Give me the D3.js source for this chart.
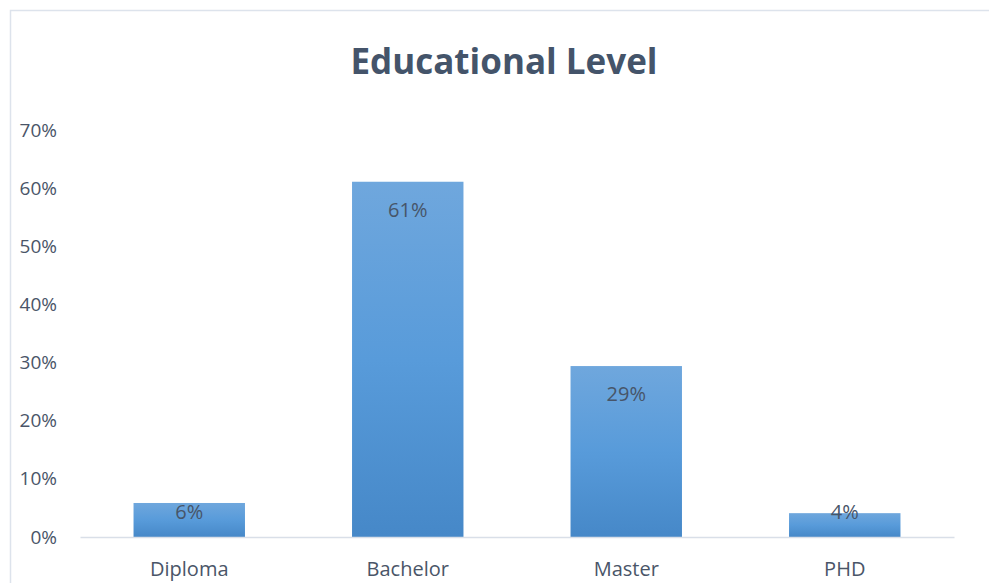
<!DOCTYPE html>
<html>
<head>
<meta charset="utf-8">
<script src="https://cdn.jsdelivr.net/npm/d3@7"></script>
<style>
  body { margin: 0; background: #fff; }
  text { font-family: "Open Sans", "Noto Sans", sans-serif; }
</style>
</head>
<body>
<div id="chart"></div>
<script>
// data
const categories = [ "Diploma", "Bachelor", "Master", "PHD" ];
const shares = [ 0.0585, 0.611, 0.294, 0.041 ];
const yTicks = [ 0, 0.1, 0.2, 0.3, 0.4, 0.5, 0.6, 0.7 ];
const chartTitle = "Educational Level";

const svgWidth = 989, svgHeight = 583;
const plot = { left: 80, right: 954, top: 130, bottom: 537 };

const svg = d3.select( "#chart" )
  .append( "svg" )
  .attr( "width", svgWidth )
  .attr( "height", svgHeight );

// chart area frame (right and bottom edge run off the picture)
svg.append( "rect" )
  .attr( "x", 10.5 ).attr( "y", 10.5 )
  .attr( "width", 1000 ).attr( "height", 600 )
  .attr( "fill", "none" )
  .attr( "stroke", "#dde3ec" )
  .attr( "stroke-width", 1.5 );

// gradient for the bars
const grad = svg.append( "defs" ).append( "linearGradient" )
  .attr( "id", "barFill" )
  .attr( "x1", 0 ).attr( "y1", 0 ).attr( "x2", 0 ).attr( "y2", 1 );
grad.append( "stop" ).attr( "offset", "0%" ).attr( "stop-color", "#6fa7dd" );
grad.append( "stop" ).attr( "offset", "50%" ).attr( "stop-color", "#589bda" );
grad.append( "stop" ).attr( "offset", "100%" ).attr( "stop-color", "#4688c8" );

const xScale = d3.scaleBand()
  .domain( categories )
  .range( [ plot.left, plot.right ] )
  .paddingInner( 0.49 )
  .paddingOuter( 0.245 );

const yScale = d3.scaleLinear()
  .domain( [ 0, 0.7 ] )
  .range( [ plot.bottom, plot.top ] );

// y axis labels, no line, no gridlines
const yAxis = svg.append( "g" )
  .attr( "transform", `translate(${plot.left}, 0)` )
  .call( d3.axisLeft( yScale )
    .tickValues( yTicks )
    .tickFormat( d3.format( ".0%" ) )
    .tickSize( 0 )
    .tickPadding( 23 ) );
yAxis.select( ".domain" ).remove();
yAxis.selectAll( "text" )
  .attr( "fill", "#4a5568" )
  .style( "font-size", "19px" )
  .style( "font-family", "'Open Sans', sans-serif" );

// bars
svg.append( "g" )
  .selectAll( "rect" )
  .data( shares )
  .enter().append( "rect" )
  .attr( "x", ( d, i ) => xScale( categories[ i ] ) )
  .attr( "y", d => yScale( d ) )
  .attr( "width", xScale.bandwidth() )
  .attr( "height", d => yScale( 0 ) - yScale( d ) )
  .attr( "fill", "url(#barFill)" );

// baseline / x axis
const xAxis = svg.append( "g" )
  .attr( "transform", `translate(0, ${plot.bottom})` )
  .call( d3.axisBottom( xScale ).tickSize( 0 ).tickPadding( 25 ) );
xAxis.select( ".domain" )
  .attr( "stroke", "#d9dfe8" )
  .attr( "stroke-width", 1.5 );
xAxis.selectAll( "text" )
  .attr( "fill", "#4a5568" )
  .style( "font-size", "20px" )
  .style( "font-family", "'Open Sans', sans-serif" );

// data labels, inside end, kept above the baseline for small bars
svg.append( "g" )
  .selectAll( "text" )
  .data( shares )
  .enter().append( "text" )
  .attr( "x", ( d, i ) => xScale( categories[ i ] ) + xScale.bandwidth() / 2 )
  .attr( "y", d => Math.min( yScale( d ) + 35, plot.bottom - 18 ) )
  .attr( "text-anchor", "middle" )
  .attr( "fill", "#475569" )
  .style( "font-size", "20px" )
  .text( d => d3.format( ".0%" )( d ) );

// title
svg.append( "text" )
  .attr( "x", 504 )
  .attr( "y", 74 )
  .attr( "text-anchor", "middle" )
  .attr( "fill", "#44546a" )
  .style( "font-size", "35px" )
  .style( "font-weight", "bold" )
  .text( chartTitle );
</script>
</body>
</html>
